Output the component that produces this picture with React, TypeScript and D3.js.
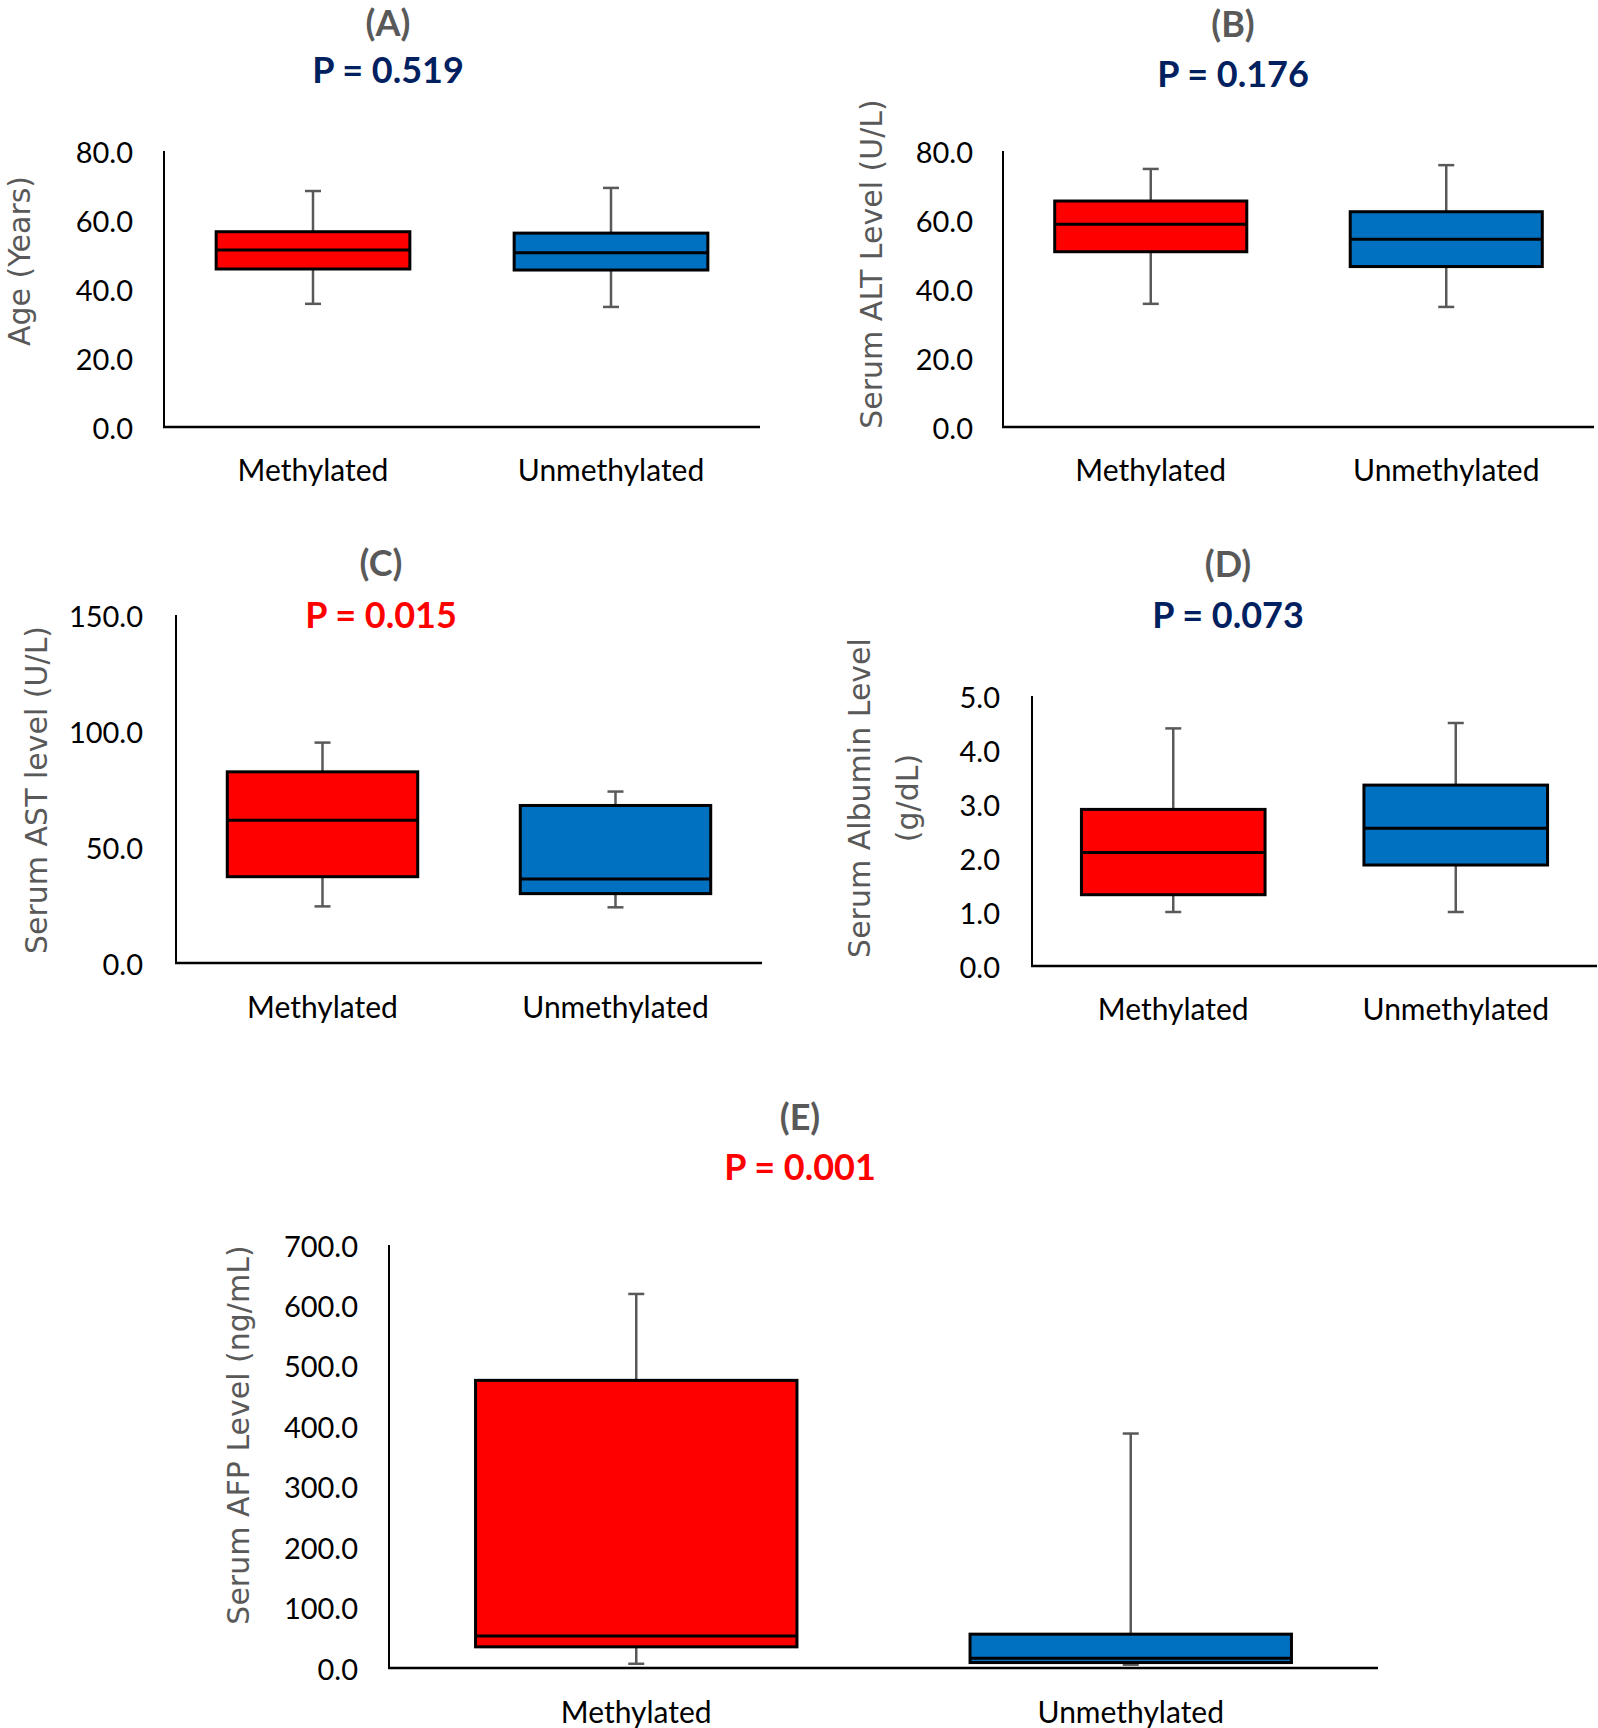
import React, { useEffect } from "react";
import * as d3 from "d3";

// ---------- DATA ----------
const categories = ["Methylated", "Unmethylated"];
// each row: [lower whisker, Q1, median, Q3, upper whisker]
const ageStats = [
  [35.7, 45.8, 51.3, 56.6, 68.4],
  [34.8, 45.5, 50.5, 56.2, 69.3],
];
const altStats = [
  [35.7, 50.8, 58.8, 65.5, 74.8],
  [34.8, 46.5, 54.4, 62.4, 75.9],
];
const astStats = [
  [24.4, 37.2, 61.5, 82.4, 95.0],
  [24.0, 29.9, 36.2, 67.9, 73.9],
];
const albuminStats = [
  [1.0, 1.32, 2.1, 2.9, 4.4],
  [1.0, 1.87, 2.55, 3.35, 4.5],
];
const afpStats = [
  [7, 35, 53, 476, 619],
  [5.5, 9, 16, 56, 388],
];

const ageTicks = [0, 20, 40, 60, 80];
const altTicks = [0, 20, 40, 60, 80];
const astTicks = [0, 50, 100, 150];
const albuminTicks = [0, 1, 2, 3, 4, 5];
const afpTicks = [0, 100, 200, 300, 400, 500, 600, 700];

const panelLetters = ["(A)", "(B)", "(C)", "(D)", "(E)"];
const pLabels = ["P = 0.519", "P = 0.176", "P = 0.015", "P = 0.073", "P = 0.001"];
const pSignificant = [false, false, true, false, true];
const yTitles = [
  ["Age (Years)"],
  ["Serum ALT Level (U/L)"],
  ["Serum AST level (U/L)"],
  ["Serum Albumin Level", "(g/dL)"],
  ["Serum AFP Level (ng/mL)"],
];

// ---------- STYLE / LAYOUT ----------
const boxColors = ["#FF0000", "#0070C0"];
const NAVY = "#002060";
const RED = "#FF0000";
const GRAY = "#595959";
const NUM_FONT = "Lato, 'Open Sans', sans-serif";
const TITLE_FONT = "'DejaVu Sans', Verdana, sans-serif";

const layouts = [
  { x0: 164, x1: 760, yTop: 151, yBot: 427, tx: 388, ty: 22, py: 69, tickX: 133, ytX: [19], ytY: 261, catY: 469 },
  { x0: 1003, x1: 1594, yTop: 151, yBot: 427, tx: 1233, ty: 23, py: 73, tickX: 973, ytX: [871], ytY: 264, catY: 469 },
  { x0: 176, x1: 762, yTop: 615, yBot: 963, tx: 381, ty: 562, py: 614, tickX: 143, ytX: [36], ytY: 790, catY: 1006 },
  { x0: 1032, x1: 1597, yTop: 696, yBot: 966, tx: 1228, ty: 563, py: 614, tickX: 1000, ytX: [859, 907], ytY: 798, catY: 1008 },
  { x0: 389, x1: 1378, yTop: 1245, yBot: 1668, tx: 800, ty: 1116, py: 1166, tickX: 358, ytX: [238], ytY: 1435, catY: 1711 },
];

const panelStats = [ageStats, altStats, astStats, albuminStats, afpStats];
const panelTicks = [ageTicks, altTicks, astTicks, albuminTicks, afpTicks];

function Panel({ idx }: { idx: number }) {
  const L = layouts[idx];
  const stats = panelStats[idx];
  const ticks = panelTicks[idx];
  const yMax = ticks[ticks.length - 1];
  const y = d3.scaleLinear().domain([0, yMax]).range([L.yBot, L.yTop]);
  const x = d3.scaleBand<string>().domain(categories).range([L.x0, L.x1]).padding(0);
  const bw = x.bandwidth();
  const boxW = bw * 0.65;
  const capW = 16;

  return (
    <g>
      <text x={L.tx} y={L.ty} textAnchor="middle" dominantBaseline="central"
        fontFamily={NUM_FONT} fontWeight={700} fontSize={36} fill={GRAY}>
        {panelLetters[idx]}
      </text>
      <text x={L.tx} y={L.py} textAnchor="middle" dominantBaseline="central"
        fontFamily={NUM_FONT} fontWeight={700} fontSize={36} fill={pSignificant[idx] ? RED : NAVY}>
        {pLabels[idx]}
      </text>

      {/* y title */}
      {yTitles[idx].map((t, i) => (
        <text key={i} transform={`translate(${L.ytX[i]},${L.ytY}) rotate(-90)`}
          textAnchor="middle" dominantBaseline="central"
          fontFamily={TITLE_FONT} fontSize={30} fill={GRAY}>
          {t}
        </text>
      ))}

      {/* tick labels */}
      {ticks.map((t) => (
        <text key={t} x={L.tickX} y={y(t)} textAnchor="end" dominantBaseline="central"
          fontFamily={NUM_FONT} fontSize={29} fill="#000">
          {d3.format(".1f")(t)}
        </text>
      ))}

      {/* boxes */}
      {categories.map((c, i) => {
        const [lo, q1, med, q3, hi] = stats[i];
        const cx = (x(c) as number) + bw / 2;
        return (
          <g key={c}>
            <line x1={cx} x2={cx} y1={y(hi)} y2={y(lo)} stroke={GRAY} strokeWidth={2.5} />
            <line x1={cx - capW / 2} x2={cx + capW / 2} y1={y(hi)} y2={y(hi)} stroke={GRAY} strokeWidth={2.5} />
            <line x1={cx - capW / 2} x2={cx + capW / 2} y1={y(lo)} y2={y(lo)} stroke={GRAY} strokeWidth={2.5} />
            <rect x={cx - boxW / 2} y={y(q3)} width={boxW} height={y(q1) - y(q3)}
              fill={boxColors[i]} stroke="#000" strokeWidth={3} />
            <line x1={cx - boxW / 2} x2={cx + boxW / 2} y1={y(med)} y2={y(med)} stroke="#000" strokeWidth={3} />
            <text x={cx} y={L.catY} textAnchor="middle" dominantBaseline="central"
              fontFamily={NUM_FONT} fontSize={30} fill="#000">
              {c}
            </text>
          </g>
        );
      })}

      {/* axes */}
      <line x1={L.x0} x2={L.x0} y1={L.yTop} y2={L.yBot} stroke="#000" strokeWidth={2} />
      <line x1={L.x0 - 1} x2={L.x1} y1={L.yBot} y2={L.yBot} stroke="#000" strokeWidth={2.5} />
    </g>
  );
}

export default function App() {
  useEffect(() => {
    document.body.style.margin = "0";
    document.body.style.background = "#fff";
  }, []);
  return (
    <svg width={1598} height={1728} viewBox="0 0 1598 1728" style={{ display: "block", background: "#fff" }}>
      <rect width={1598} height={1728} fill="#fff" />
      {layouts.map((_, i) => (
        <Panel key={i} idx={i} />
      ))}
    </svg>
  );
}
